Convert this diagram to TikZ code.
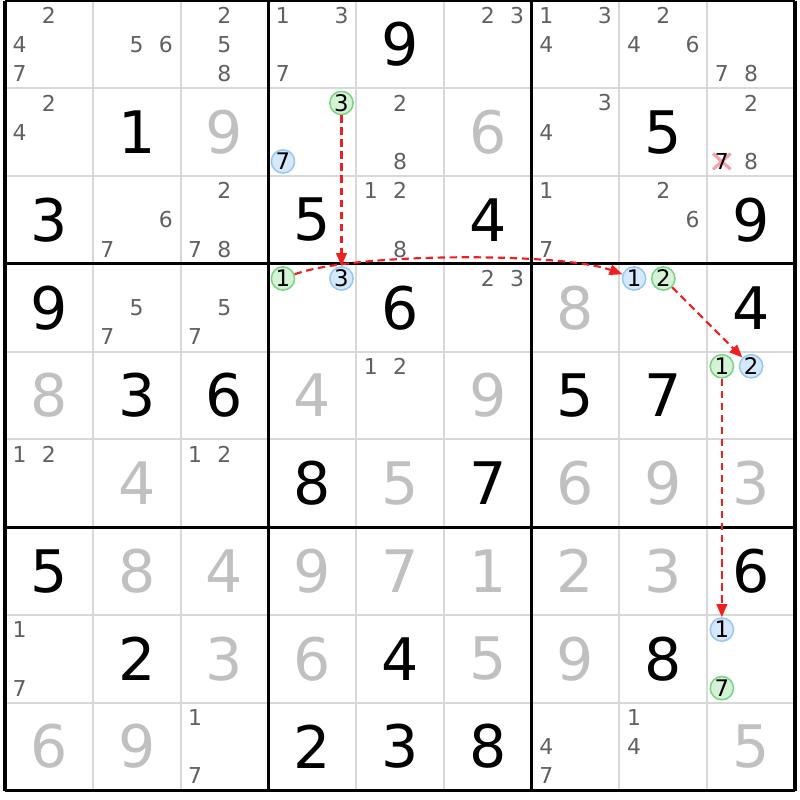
\documentclass[tikz,border=0pt]{standalone}
\usepackage{fontspec}
\setmainfont{DejaVu Sans}
\usetikzlibrary{arrows.meta}
\definecolor{candgray}{RGB}{96,96,96}
\definecolor{givengray}{RGB}{192,192,192}
\definecolor{gridgray}{RGB}{216,216,216}
\definecolor{ongreen}{RGB}{214,242,214}
\definecolor{ongreenrim}{RGB}{120,214,130}
\definecolor{offblue}{RGB}{214,232,252}
\definecolor{offbluerim}{RGB}{150,200,245}
\definecolor{linkred}{RGB}{240,30,30}
\definecolor{crosspink}{RGB}{245,160,170}
\tikzset{
    solved/.style={font=\fontsize{19}{19}\selectfont, text=black},
    given/.style={font=\fontsize{19}{19}\selectfont, text=givengray},
    cand/.style={font=\fontsize{7.1}{7.1}\selectfont, text=candgray},
    oncand/.style={circle, draw=ongreenrim, fill=ongreen, line width=0.5pt, minimum size=0.265cm, font=\fontsize{7.4}{7.4}\selectfont},
    offcand/.style={circle, draw=offbluerim, fill=offblue, line width=0.5pt, minimum size=0.265cm, font=\fontsize{7.4}{7.4}\selectfont},
    link/.style={draw=linkred, dash pattern=on 2.4pt off 1.5pt, line width=0.7pt, -{Triangle[length=4.2pt,width=3.4pt]}},
    thinline/.style={draw=gridgray, line width=0.65pt},
    boxline/.style={draw=black, line width=1pt}
}
\begin{document}
\begin{tikzpicture}
  [
    x                       = 1cm,
    y                       = 1cm,
    every node/.style       = {inner sep=0pt},
  ]
  \useasboundingbox (-0.057,-9.108) rectangle (9.057,0.006);
  \foreach \i in {1,...,8} {
    \draw [thinline] (\i,0) -- (\i,-9);
    \draw [thinline] (0,-\i) -- (9,-\i);
  }
  \foreach \i in {0,3,6,9} {
    \draw [boxline] (\i,0) -- (\i,-9);
    \draw [boxline] (0,-\i) -- (9,-\i);
  }
  \foreach \r/\c/\v in {0/4/9, 1/1/1, 1/7/5, 2/0/3, 2/3/5, 2/5/4, 2/8/9, 3/0/9, 3/4/6, 3/8/4,
      4/1/3, 4/2/6, 4/6/5, 4/7/7, 5/3/8, 5/5/7, 6/0/5, 6/8/6, 7/1/2, 7/4/4, 7/7/8, 8/3/2, 8/4/3, 8/5/8}
    \node [solved] (d\r\c) at (\c+0.5,-\r-0.5) {\v};
  \foreach \r/\c/\v in {1/2/9, 1/5/6, 3/6/8, 4/0/8, 4/3/4, 4/5/9, 5/1/4, 5/4/5, 5/6/6, 5/7/9, 5/8/3,
      6/1/8, 6/2/4, 6/3/9, 6/4/7, 6/5/1, 6/6/2, 6/7/3, 7/2/3, 7/3/6, 7/5/5, 7/6/9, 8/0/6, 8/1/9, 8/8/5}
    \node [given] (d\r\c) at (\c+0.5,-\r-0.5) {\v};
  \foreach \r/\c/\ks in {0/0/{2,4,7}, 0/1/{5,6}, 0/2/{2,5,8}, 0/3/{1,3,7}, 0/5/{2,3}, 0/6/{1,3,4}, 0/7/{2,4,6}, 0/8/{7,8},
      1/0/{2,4}, 1/4/{2,8}, 1/6/{3,4}, 1/8/{2,8}, 2/1/{6,7}, 2/2/{2,7,8}, 2/4/{1,2,8}, 2/6/{1,7}, 2/7/{2,6},
      3/1/{5,7}, 3/2/{5,7}, 3/5/{2,3}, 4/4/{1,2}, 5/0/{1,2}, 5/2/{1,2}, 7/0/{1,7}, 8/2/{1,7}, 8/6/{4,7}, 8/7/{1,4}} {
    \foreach \k in \ks {
      \node [cand] (k\r\c\k) at ({\c+(2*mod(\k-1,3)+1)/6},{-\r-(2*int((\k-1)/3)+1)/6}) {\k};
    }
  }
  \coordinate (x187) at (8+1/6,-1-5/6);
  \draw [crosspink, line width=1pt] ([shift={(-0.1,0.09)}]x187) -- ([shift={(0.1,-0.09)}]x187)
                                    ([shift={(-0.1,-0.09)}]x187) -- ([shift={(0.1,0.09)}]x187);
  \node [cand, text=black] (k187) at (x187) {7};
  \node [oncand]  (g1) at (3+5/6,-1-1/6) {3};
  \node [offcand] (w1) at (3+1/6,-1-5/6) {7};
  \node [offcand] (b1) at (3+5/6,-3-1/6) {3};
  \node [oncand]  (g2) at (3+1/6,-3-1/6) {1};
  \node [offcand] (b2) at (7+1/6,-3-1/6) {1};
  \node [oncand]  (g3) at (7+3/6,-3-1/6) {2};
  \node [oncand]  (g4) at (8+1/6,-4-1/6) {1};
  \node [offcand] (b3) at (8+3/6,-4-1/6) {2};
  \node [offcand] (b4) at (8+1/6,-7-1/6) {1};
  \node [oncand]  (w2) at (8+1/6,-7-5/6) {7};
  \draw [link] (g1) -- (b1);
  \draw [link] (g2) to [out=20, in=160, looseness=0.5] (b2);
  \draw [link] (g3) -- (b3);
  \draw [link] (g4) -- (b4);
\end{tikzpicture}
\end{document}
